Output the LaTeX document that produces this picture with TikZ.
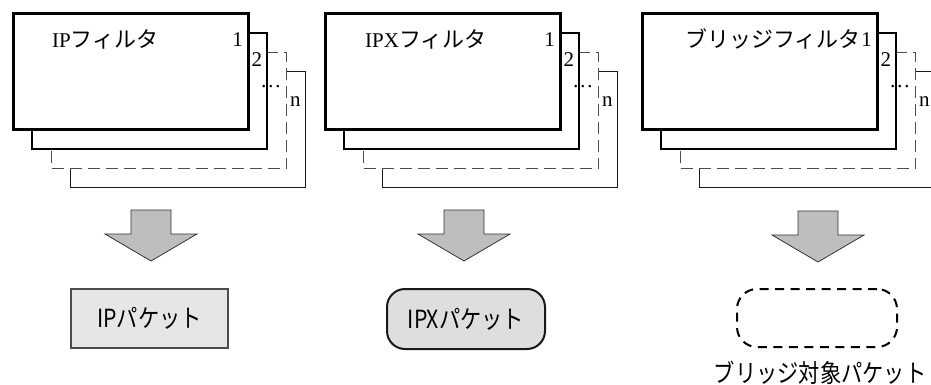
\documentclass[tikz,border=0pt]{standalone}
\usepackage{fontspec}
\setmainfont{Liberation Serif}
\newfontfamily\jpfont{Noto Sans CJK JP}

\definecolor{arrowgray}{HTML}{BEBEBE}
\definecolor{pktgray}{HTML}{E6E6E6}
\definecolor{pktgrayb}{HTML}{DEDEDE}

\newcommand{\pkt}[1]{\scalebox{0.85}[1]{\jpfont\fontsize{25}{29}\selectfont #1}}

\tikzset{
  layerbox/.style={fill=white, minimum width=235pt, minimum height=116pt, inner sep=0pt},
  layerfront/.style={layerbox, draw, line width=3pt},
  layersecond/.style={layerbox, draw, line width=1.8pt},
  layerdash/.style={layerbox, draw=black!70, line width=1.1pt, dash pattern=on 12pt off 6pt},
  layerlast/.style={layerbox, draw=black!90, line width=0.9pt},
  numlabel/.style={anchor=base east, inner sep=0pt, font=\fontsize{21}{25}\selectfont},
  filtername/.style={anchor=base west, inner sep=0pt, font=\fontsize{21}{25}\selectfont},
  pkttext/.style={inner sep=0pt},
  downarrow/.pic={\draw[fill=arrowgray, draw=black!80, line width=0.8pt] (-20,0) -- (20,0) -- (20,24) -- (46,24) -- (0,51) -- (-46,24) -- (-20,24) -- cycle;}
}

\begin{document}
\begin{tikzpicture}[x=1pt, y=-1pt]
\clip (0,0) rectangle (931,385);

% IP filter
\node[layerlast] (ipf3) at (188.4,129.9){};
\node[layerdash] (ipf2) at (169.1,110.6){};
\node[layersecond] (ipf1) at (149.8,91.3){};
\node[layerfront] (ipf0) at (130.5,72){};
\node[filtername] (ipname) at (52,48){IP{\jpfont\fontsize{22}{26}\selectfont フィルタ}};
\node[numlabel] (ipn1) at (243,47){1};
\node[numlabel] (ipn2) at (262.3,67){2};
\node[numlabel] (ipn3) at (281.6,88){\dots};
\node[numlabel] (ipn4) at (300.9,107){n};

% IPX filter
\node[layerlast] (ipxf3) at (500.4,129.9){};
\node[layerdash] (ipxf2) at (481.1,110.6){};
\node[layersecond] (ipxf1) at (461.8,91.3){};
\node[layerfront] (ipxf0) at (442.5,72){};
\node[filtername] (ipxname) at (365,48){IPX{\jpfont\fontsize{22}{26}\selectfont フィルタ}};
\node[numlabel] (ipxn1) at (555,47){1};
\node[numlabel] (ipxn2) at (574.3,67){2};
\node[numlabel] (ipxn3) at (593.6,88){\dots};
\node[numlabel] (ipxn4) at (612.9,107){n};

% bridge filter
\node[layerlast] (brf3) at (817.4,129.9){};
\node[layerdash] (brf2) at (798.1,110.6){};
\node[layersecond] (brf1) at (778.8,91.3){};
\node[layerfront] (brf0) at (759.5,72){};
\node[filtername] (brname) at (685,48){{\jpfont\fontsize{22}{26}\selectfont ブリッジフィルタ}};
\node[numlabel] (brn1) at (872,47){1};
\node[numlabel] (brn2) at (891.3,67){2};
\node[numlabel] (brn3) at (910.6,88){\dots};
\node[numlabel] (brn4) at (929.9,107){n};

% arrows
\pic (iparrow) at (151,210) {downarrow};
\pic (ipxarrow) at (464,210) {downarrow};
\pic (brarrow) at (818,211) {downarrow};

% packets
\node[pkttext, draw=black!70, fill=pktgray, line width=1.5pt, minimum width=157pt, minimum height=59pt] (ippkt) at (149.5,318.5){\pkt{IPパケット}};
\node[pkttext, draw=black!90, fill=pktgrayb, line width=2pt, rounded corners=18pt, minimum width=158pt, minimum height=60pt] (ipxpkt) at (466,319){\pkt{IPXパケット}};
\node[draw, line width=2pt, dash pattern=on 9pt off 6.5pt, rounded corners=20pt, minimum width=160pt, minimum height=58pt] (brpkt) at (817,318){};
\node[pkttext] (brlabel) at (820,373){\pkt{ブリッジ対象パケット}};

\end{tikzpicture}
\end{document}
